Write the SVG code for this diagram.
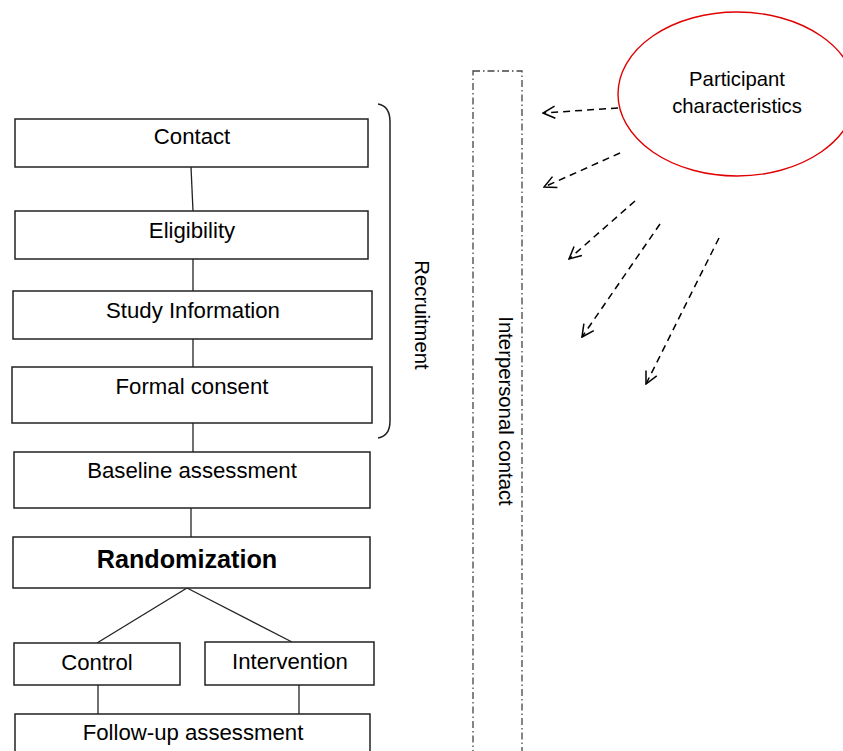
<svg xmlns="http://www.w3.org/2000/svg" width="843" height="751" viewBox="0 0 843 751">
<style>
.box{fill:#fff;stroke:#222;stroke-width:1.5}
.lbl{font-family:"Liberation Sans",Arial,sans-serif;font-size:22.2px;fill:#000;text-anchor:middle}
.bold{font-weight:bold;font-size:25.2px}
.side{font-family:"Liberation Sans",Arial,sans-serif;font-size:20.3px;fill:#000;text-anchor:middle}
.conn{stroke:#222;stroke-width:1.3;fill:none}
.dash{stroke:#000;stroke-width:1.5;fill:none;stroke-dasharray:7,5;marker-end:url(#ah)}
</style>
<defs>
<marker id="ah" viewBox="0 0 14 14" refX="13" refY="7" markerWidth="14" markerHeight="14" markerUnits="userSpaceOnUse" orient="auto">
<path d="M1,1 L13,7 L1,13" fill="none" stroke="#000" stroke-width="1.5"/>
</marker>
</defs>
<rect width="843" height="751" fill="#fff"/>
<g id="connectors">
<line class="conn" x1="191" y1="167" x2="193" y2="211"/>
<line class="conn" x1="193" y1="259" x2="193" y2="291"/>
<line class="conn" x1="193" y1="339" x2="193" y2="367"/>
<line class="conn" x1="193" y1="423" x2="193" y2="452"/>
<line class="conn" x1="191" y1="508" x2="191" y2="537"/>
<line class="conn" x1="187" y1="588" x2="97" y2="643"/>
<line class="conn" x1="187" y1="588" x2="292" y2="642"/>
<line class="conn" x1="98" y1="685" x2="98" y2="714"/>
<line class="conn" x1="299" y1="685" x2="299" y2="714"/>
<line class="dash" x1="618" y1="108" x2="543" y2="113"/>
<line class="dash" x1="620" y1="153" x2="544" y2="187"/>
<line class="dash" x1="635" y1="201" x2="569" y2="259"/>
<line class="dash" x1="660" y1="224" x2="582" y2="337"/>
<line class="dash" x1="719" y1="238" x2="646" y2="384"/>
</g>
<g id="contact"><rect class="box" x="15" y="119" width="353" height="48"/><text class="lbl" x="192" y="144">Contact</text></g>
<g id="eligibility"><rect class="box" x="15" y="211" width="353" height="48"/><text class="lbl" x="192" y="238">Eligibility</text></g>
<g id="study-information"><rect class="box" x="13" y="291" width="359" height="48"/><text class="lbl" x="193" y="318">Study Information</text></g>
<g id="formal-consent"><rect class="box" x="12" y="367" width="360" height="56"/><text class="lbl" x="192" y="394">Formal consent</text></g>
<g id="baseline-assessment"><rect class="box" x="14" y="452" width="356" height="56"/><text class="lbl" x="192" y="478">Baseline assessment</text></g>
<g id="randomization"><rect class="box" x="13" y="537" width="357" height="51"/><text class="lbl bold" x="187" y="568">Randomization</text></g>
<g id="control"><rect class="box" x="14" y="643" width="166" height="42"/><text class="lbl" x="97" y="670">Control</text></g>
<g id="intervention"><rect class="box" x="205" y="642" width="169" height="43"/><text class="lbl" x="290" y="669">Intervention</text></g>
<g id="follow-up-assessment"><rect class="box" x="15" y="714" width="355" height="60"/><text class="lbl" x="193" y="740">Follow-up assessment</text></g>
<g id="recruitment">
<path d="M378,104 Q390,106 390,122 L390,421 Q390,436 378,438" fill="none" stroke="#222" stroke-width="1.5"/>
<text class="side" transform="translate(415,315) rotate(90)">Recruitment</text>
</g>
<g id="interpersonal-contact">
<rect x="473" y="71" width="49" height="700" fill="none" stroke="#444" stroke-width="1.3" stroke-dasharray="7,3,1.5,3"/>
<text class="side" transform="translate(499,411) rotate(90)">Interpersonal contact</text>
</g>
<g id="participant-characteristics">
<ellipse cx="737" cy="94" rx="119" ry="82" fill="#fff" stroke="#e00000" stroke-width="1.4"/>
<text class="side" x="737" y="86">Participant</text>
<text class="side" x="737" y="113">characteristics</text>
</g>
</svg>
